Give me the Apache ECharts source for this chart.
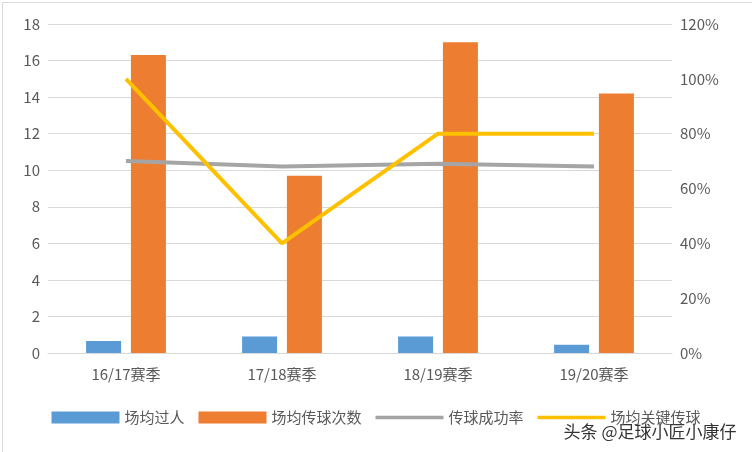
<!DOCTYPE html>
<html><head><meta charset="utf-8">
<script src="https://cdn.jsdelivr.net/npm/echarts@6/dist/echarts.min.js"></script>
<style>html,body{margin:0;padding:0;background:#fff}#c{width:752px;height:452px}</style>
</head><body><div id="c"></div>
<script>
const categories = ['16/17赛季','17/18赛季','18/19赛季','19/20赛季'];
const dribbles = [0.65, 0.9, 0.9, 0.45];
const passes = [16.3, 9.7, 17.0, 14.2];
const passRate = [70, 68, 69, 68];
const keyPasses = [100, 40, 80, 80];
const chart = echarts.init(document.getElementById('c'));
const font = 'Microsoft YaHei, Noto Sans CJK SC, sans-serif';
const lineIcon = 'path://M0,4H40V6H0Z';
chart.setOption({
  animation:false,
  textStyle:{fontFamily:font},
  grid:{left:48,right:80,top:24,bottom:99},
  legend:{bottom:22,left:'center',itemGap:14,itemWidth:68,itemHeight:12,textStyle:{fontSize:15,color:'#595959'},
    data:[{name:'场均过人',icon:'rect'},{name:'场均传球次数',icon:'rect'},{name:'传球成功率',icon:lineIcon},{name:'场均关键传球',icon:lineIcon}]},
  xAxis:{type:'category',data:categories,axisTick:{show:false},axisLine:{lineStyle:{color:'#d9d9d9'}},
    axisLabel:{fontSize:15,color:'#595959',margin:14}},
  yAxis:[{type:'value',min:0,max:18,interval:2,axisLabel:{fontSize:15,color:'#595959'},splitLine:{lineStyle:{color:'#d9d9d9'}}},
    {type:'value',min:0,max:120,interval:20,axisLabel:{fontSize:15,color:'#595959',formatter:'{value}%'},splitLine:{show:false}}],
  series:[
    {name:'场均过人',type:'bar',data:dribbles,barWidth:35,barGap:'28%',itemStyle:{color:'#5B9BD5'}},
    {name:'场均传球次数',type:'bar',data:passes,barWidth:35,barGap:'28%',itemStyle:{color:'#ED7D31'}},
    {name:'传球成功率',type:'line',yAxisIndex:1,data:passRate,symbol:'none',lineStyle:{color:'#A5A5A5',width:4},itemStyle:{color:'#A5A5A5'}},
    {name:'场均关键传球',type:'line',yAxisIndex:1,data:keyPasses,symbol:'none',lineStyle:{color:'#FFC000',width:4},itemStyle:{color:'#FFC000'}}
  ],
  graphic:[{type:'text',right:14,bottom:10,style:{text:'头条 @足球小匠小康仔',fontSize:17,fill:'#333',fontFamily:font,stroke:'#fff',lineWidth:3}},
    {type:'rect',left:0,top:0,shape:{width:751,height:451},style:{fill:'none',stroke:'#d9d9d9'}}]
});
</script></body></html>
